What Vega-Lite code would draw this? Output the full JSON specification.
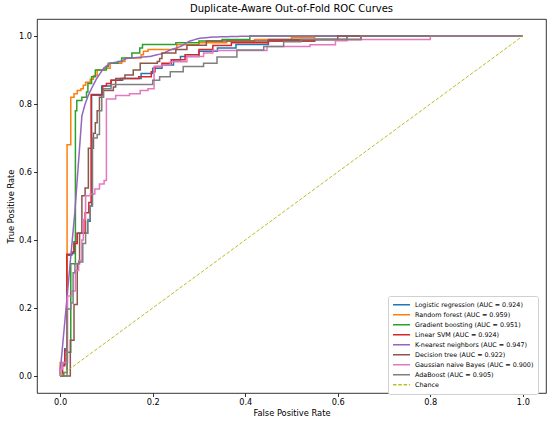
{
  "$schema": "https://vega.github.io/schema/vega-lite/v6.json",
  "width": 509,
  "height": 374,
  "autosize": "none",
  "padding": {"left": 37, "top": 19, "right": 4, "bottom": 29},
  "title": {"text": "Duplicate-Aware Out-of-Fold ROC Curves", "offset": 5},
  "data": {
    "values": [
      {"model": "Logistic regression (AUC = 0.924)", "x": 0, "y": 0},
      {"model": "Logistic regression (AUC = 0.924)", "x": 0.005, "y": 0.035},
      {"model": "Logistic regression (AUC = 0.924)", "x": 0.01, "y": 0.08},
      {"model": "Logistic regression (AUC = 0.924)", "x": 0.0145, "y": 0.355},
      {"model": "Logistic regression (AUC = 0.924)", "x": 0.025, "y": 0.36},
      {"model": "Logistic regression (AUC = 0.924)", "x": 0.03, "y": 0.395},
      {"model": "Logistic regression (AUC = 0.924)", "x": 0.037, "y": 0.42},
      {"model": "Logistic regression (AUC = 0.924)", "x": 0.059, "y": 0.455},
      {"model": "Logistic regression (AUC = 0.924)", "x": 0.065, "y": 0.5},
      {"model": "Logistic regression (AUC = 0.924)", "x": 0.068, "y": 0.826},
      {"model": "Logistic regression (AUC = 0.924)", "x": 0.09, "y": 0.853},
      {"model": "Logistic regression (AUC = 0.924)", "x": 0.11, "y": 0.87},
      {"model": "Logistic regression (AUC = 0.924)", "x": 0.135, "y": 0.875},
      {"model": "Logistic regression (AUC = 0.924)", "x": 0.175, "y": 0.89},
      {"model": "Logistic regression (AUC = 0.924)", "x": 0.2, "y": 0.905},
      {"model": "Logistic regression (AUC = 0.924)", "x": 0.22, "y": 0.915},
      {"model": "Logistic regression (AUC = 0.924)", "x": 0.245, "y": 0.93},
      {"model": "Logistic regression (AUC = 0.924)", "x": 0.26, "y": 0.94},
      {"model": "Logistic regression (AUC = 0.924)", "x": 0.3, "y": 0.955},
      {"model": "Logistic regression (AUC = 0.924)", "x": 0.34, "y": 0.965},
      {"model": "Logistic regression (AUC = 0.924)", "x": 0.38, "y": 0.975},
      {"model": "Logistic regression (AUC = 0.924)", "x": 0.45, "y": 0.985},
      {"model": "Logistic regression (AUC = 0.924)", "x": 0.55, "y": 0.99},
      {"model": "Logistic regression (AUC = 0.924)", "x": 0.62, "y": 1.0},
      {"model": "Logistic regression (AUC = 0.924)", "x": 1, "y": 1},

      {"model": "Random forest (AUC = 0.959)", "x": 0, "y": 0},
      {"model": "Random forest (AUC = 0.959)", "x": 0, "y": 0.04},
      {"model": "Random forest (AUC = 0.959)", "x": 0.015, "y": 0.68},
      {"model": "Random forest (AUC = 0.959)", "x": 0.023, "y": 0.82},
      {"model": "Random forest (AUC = 0.959)", "x": 0.03, "y": 0.83},
      {"model": "Random forest (AUC = 0.959)", "x": 0.037, "y": 0.84},
      {"model": "Random forest (AUC = 0.959)", "x": 0.045, "y": 0.845},
      {"model": "Random forest (AUC = 0.959)", "x": 0.05, "y": 0.855},
      {"model": "Random forest (AUC = 0.959)", "x": 0.055, "y": 0.864},
      {"model": "Random forest (AUC = 0.959)", "x": 0.065, "y": 0.873},
      {"model": "Random forest (AUC = 0.959)", "x": 0.072, "y": 0.883},
      {"model": "Random forest (AUC = 0.959)", "x": 0.08, "y": 0.9},
      {"model": "Random forest (AUC = 0.959)", "x": 0.095, "y": 0.905},
      {"model": "Random forest (AUC = 0.959)", "x": 0.108, "y": 0.92},
      {"model": "Random forest (AUC = 0.959)", "x": 0.133, "y": 0.925},
      {"model": "Random forest (AUC = 0.959)", "x": 0.14, "y": 0.935},
      {"model": "Random forest (AUC = 0.959)", "x": 0.175, "y": 0.945},
      {"model": "Random forest (AUC = 0.959)", "x": 0.18, "y": 0.955},
      {"model": "Random forest (AUC = 0.959)", "x": 0.19, "y": 0.96},
      {"model": "Random forest (AUC = 0.959)", "x": 0.252, "y": 0.974},
      {"model": "Random forest (AUC = 0.959)", "x": 0.3, "y": 0.98},
      {"model": "Random forest (AUC = 0.959)", "x": 0.36, "y": 0.985},
      {"model": "Random forest (AUC = 0.959)", "x": 0.42, "y": 0.99},
      {"model": "Random forest (AUC = 0.959)", "x": 0.5, "y": 0.995},
      {"model": "Random forest (AUC = 0.959)", "x": 0.55, "y": 1.0},
      {"model": "Random forest (AUC = 0.959)", "x": 1, "y": 1},

      {"model": "Gradient boosting (AUC = 0.951)", "x": 0, "y": 0},
      {"model": "Gradient boosting (AUC = 0.951)", "x": 0.008, "y": 0.01},
      {"model": "Gradient boosting (AUC = 0.951)", "x": 0.015, "y": 0.07},
      {"model": "Gradient boosting (AUC = 0.951)", "x": 0.023, "y": 0.33},
      {"model": "Gradient boosting (AUC = 0.951)", "x": 0.033, "y": 0.78},
      {"model": "Gradient boosting (AUC = 0.951)", "x": 0.036, "y": 0.81},
      {"model": "Gradient boosting (AUC = 0.951)", "x": 0.047, "y": 0.82},
      {"model": "Gradient boosting (AUC = 0.951)", "x": 0.057, "y": 0.835},
      {"model": "Gradient boosting (AUC = 0.951)", "x": 0.06, "y": 0.86},
      {"model": "Gradient boosting (AUC = 0.951)", "x": 0.068, "y": 0.88},
      {"model": "Gradient boosting (AUC = 0.951)", "x": 0.076, "y": 0.9},
      {"model": "Gradient boosting (AUC = 0.951)", "x": 0.1, "y": 0.91},
      {"model": "Gradient boosting (AUC = 0.951)", "x": 0.104, "y": 0.92},
      {"model": "Gradient boosting (AUC = 0.951)", "x": 0.125, "y": 0.925},
      {"model": "Gradient boosting (AUC = 0.951)", "x": 0.133, "y": 0.935},
      {"model": "Gradient boosting (AUC = 0.951)", "x": 0.155, "y": 0.95},
      {"model": "Gradient boosting (AUC = 0.951)", "x": 0.172, "y": 0.965},
      {"model": "Gradient boosting (AUC = 0.951)", "x": 0.178, "y": 0.975},
      {"model": "Gradient boosting (AUC = 0.951)", "x": 0.25, "y": 0.98},
      {"model": "Gradient boosting (AUC = 0.951)", "x": 0.3, "y": 0.985},
      {"model": "Gradient boosting (AUC = 0.951)", "x": 0.35, "y": 0.99},
      {"model": "Gradient boosting (AUC = 0.951)", "x": 0.41, "y": 1.0},
      {"model": "Gradient boosting (AUC = 0.951)", "x": 1, "y": 1},

      {"model": "Linear SVM (AUC = 0.924)", "x": 0, "y": 0},
      {"model": "Linear SVM (AUC = 0.924)", "x": 0.005, "y": 0.03},
      {"model": "Linear SVM (AUC = 0.924)", "x": 0.01, "y": 0.075},
      {"model": "Linear SVM (AUC = 0.924)", "x": 0.0145, "y": 0.358},
      {"model": "Linear SVM (AUC = 0.924)", "x": 0.025, "y": 0.365},
      {"model": "Linear SVM (AUC = 0.924)", "x": 0.03, "y": 0.39},
      {"model": "Linear SVM (AUC = 0.924)", "x": 0.037, "y": 0.42},
      {"model": "Linear SVM (AUC = 0.924)", "x": 0.054, "y": 0.48},
      {"model": "Linear SVM (AUC = 0.924)", "x": 0.062, "y": 0.51},
      {"model": "Linear SVM (AUC = 0.924)", "x": 0.067, "y": 0.828},
      {"model": "Linear SVM (AUC = 0.924)", "x": 0.092, "y": 0.853},
      {"model": "Linear SVM (AUC = 0.924)", "x": 0.1, "y": 0.86},
      {"model": "Linear SVM (AUC = 0.924)", "x": 0.11, "y": 0.87},
      {"model": "Linear SVM (AUC = 0.924)", "x": 0.13, "y": 0.875},
      {"model": "Linear SVM (AUC = 0.924)", "x": 0.17, "y": 0.88},
      {"model": "Linear SVM (AUC = 0.924)", "x": 0.197, "y": 0.895},
      {"model": "Linear SVM (AUC = 0.924)", "x": 0.205, "y": 0.91},
      {"model": "Linear SVM (AUC = 0.924)", "x": 0.22, "y": 0.92},
      {"model": "Linear SVM (AUC = 0.924)", "x": 0.24, "y": 0.93},
      {"model": "Linear SVM (AUC = 0.924)", "x": 0.27, "y": 0.945},
      {"model": "Linear SVM (AUC = 0.924)", "x": 0.3, "y": 0.96},
      {"model": "Linear SVM (AUC = 0.924)", "x": 0.33, "y": 0.972},
      {"model": "Linear SVM (AUC = 0.924)", "x": 0.37, "y": 0.98},
      {"model": "Linear SVM (AUC = 0.924)", "x": 0.45, "y": 0.985},
      {"model": "Linear SVM (AUC = 0.924)", "x": 0.55, "y": 0.99},
      {"model": "Linear SVM (AUC = 0.924)", "x": 0.65, "y": 1.0},
      {"model": "Linear SVM (AUC = 0.924)", "x": 1, "y": 1},

      {"model": "K-nearest neighbors (AUC = 0.947)", "x": 0, "y": 0},
      {"model": "K-nearest neighbors (AUC = 0.947)", "x": 0, "y": 0.02},
      {"model": "K-nearest neighbors (AUC = 0.947)", "x": 0.002, "y": 0.04},
      {"model": "K-nearest neighbors (AUC = 0.947)", "x": 0.032, "y": 0.485},
      {"model": "K-nearest neighbors (AUC = 0.947)", "x": 0.047, "y": 0.765},
      {"model": "K-nearest neighbors (AUC = 0.947)", "x": 0.054, "y": 0.8},
      {"model": "K-nearest neighbors (AUC = 0.947)", "x": 0.061, "y": 0.826},
      {"model": "K-nearest neighbors (AUC = 0.947)", "x": 0.068, "y": 0.846},
      {"model": "K-nearest neighbors (AUC = 0.947)", "x": 0.079, "y": 0.875},
      {"model": "K-nearest neighbors (AUC = 0.947)", "x": 0.094, "y": 0.905},
      {"model": "K-nearest neighbors (AUC = 0.947)", "x": 0.108, "y": 0.92},
      {"model": "K-nearest neighbors (AUC = 0.947)", "x": 0.13, "y": 0.925},
      {"model": "K-nearest neighbors (AUC = 0.947)", "x": 0.144, "y": 0.934},
      {"model": "K-nearest neighbors (AUC = 0.947)", "x": 0.195, "y": 0.94},
      {"model": "K-nearest neighbors (AUC = 0.947)", "x": 0.223, "y": 0.949},
      {"model": "K-nearest neighbors (AUC = 0.947)", "x": 0.238, "y": 0.959},
      {"model": "K-nearest neighbors (AUC = 0.947)", "x": 0.26, "y": 0.969},
      {"model": "K-nearest neighbors (AUC = 0.947)", "x": 0.28, "y": 0.985},
      {"model": "K-nearest neighbors (AUC = 0.947)", "x": 0.3, "y": 0.993},
      {"model": "K-nearest neighbors (AUC = 0.947)", "x": 0.33, "y": 0.997},
      {"model": "K-nearest neighbors (AUC = 0.947)", "x": 0.42, "y": 1.0},
      {"model": "K-nearest neighbors (AUC = 0.947)", "x": 1, "y": 1},

      {"model": "Decision tree (AUC = 0.922)", "x": 0, "y": 0},
      {"model": "Decision tree (AUC = 0.922)", "x": 0.022, "y": 0.032},
      {"model": "Decision tree (AUC = 0.922)", "x": 0.022, "y": 0.105},
      {"model": "Decision tree (AUC = 0.922)", "x": 0.03, "y": 0.21},
      {"model": "Decision tree (AUC = 0.922)", "x": 0.037, "y": 0.33},
      {"model": "Decision tree (AUC = 0.922)", "x": 0.042, "y": 0.42},
      {"model": "Decision tree (AUC = 0.922)", "x": 0.047, "y": 0.53},
      {"model": "Decision tree (AUC = 0.922)", "x": 0.054, "y": 0.553},
      {"model": "Decision tree (AUC = 0.922)", "x": 0.061, "y": 0.67},
      {"model": "Decision tree (AUC = 0.922)", "x": 0.072, "y": 0.714},
      {"model": "Decision tree (AUC = 0.922)", "x": 0.076, "y": 0.745},
      {"model": "Decision tree (AUC = 0.922)", "x": 0.08, "y": 0.78},
      {"model": "Decision tree (AUC = 0.922)", "x": 0.085, "y": 0.82},
      {"model": "Decision tree (AUC = 0.922)", "x": 0.09, "y": 0.84},
      {"model": "Decision tree (AUC = 0.922)", "x": 0.115, "y": 0.85},
      {"model": "Decision tree (AUC = 0.922)", "x": 0.12, "y": 0.875},
      {"model": "Decision tree (AUC = 0.922)", "x": 0.14, "y": 0.885},
      {"model": "Decision tree (AUC = 0.922)", "x": 0.158, "y": 0.9},
      {"model": "Decision tree (AUC = 0.922)", "x": 0.173, "y": 0.92},
      {"model": "Decision tree (AUC = 0.922)", "x": 0.21, "y": 0.925},
      {"model": "Decision tree (AUC = 0.922)", "x": 0.215, "y": 0.934},
      {"model": "Decision tree (AUC = 0.922)", "x": 0.22, "y": 0.95},
      {"model": "Decision tree (AUC = 0.922)", "x": 0.25, "y": 0.96},
      {"model": "Decision tree (AUC = 0.922)", "x": 0.274, "y": 0.973},
      {"model": "Decision tree (AUC = 0.922)", "x": 0.316, "y": 0.985},
      {"model": "Decision tree (AUC = 0.922)", "x": 0.45, "y": 0.99},
      {"model": "Decision tree (AUC = 0.922)", "x": 0.6, "y": 1.0},
      {"model": "Decision tree (AUC = 0.922)", "x": 1, "y": 1},

      {"model": "Gaussian naive Bayes (AUC = 0.900)", "x": 0, "y": 0},
      {"model": "Gaussian naive Bayes (AUC = 0.900)", "x": 0, "y": 0.02},
      {"model": "Gaussian naive Bayes (AUC = 0.900)", "x": 0.005, "y": 0.04},
      {"model": "Gaussian naive Bayes (AUC = 0.900)", "x": 0.016, "y": 0.235},
      {"model": "Gaussian naive Bayes (AUC = 0.900)", "x": 0.025, "y": 0.25},
      {"model": "Gaussian naive Bayes (AUC = 0.900)", "x": 0.033, "y": 0.31},
      {"model": "Gaussian naive Bayes (AUC = 0.900)", "x": 0.04, "y": 0.34},
      {"model": "Gaussian naive Bayes (AUC = 0.900)", "x": 0.047, "y": 0.4},
      {"model": "Gaussian naive Bayes (AUC = 0.900)", "x": 0.05, "y": 0.46},
      {"model": "Gaussian naive Bayes (AUC = 0.900)", "x": 0.055, "y": 0.53},
      {"model": "Gaussian naive Bayes (AUC = 0.900)", "x": 0.065, "y": 0.535},
      {"model": "Gaussian naive Bayes (AUC = 0.900)", "x": 0.075, "y": 0.55},
      {"model": "Gaussian naive Bayes (AUC = 0.900)", "x": 0.085, "y": 0.565},
      {"model": "Gaussian naive Bayes (AUC = 0.900)", "x": 0.095, "y": 0.575},
      {"model": "Gaussian naive Bayes (AUC = 0.900)", "x": 0.1, "y": 0.815},
      {"model": "Gaussian naive Bayes (AUC = 0.900)", "x": 0.12, "y": 0.825},
      {"model": "Gaussian naive Bayes (AUC = 0.900)", "x": 0.15, "y": 0.83},
      {"model": "Gaussian naive Bayes (AUC = 0.900)", "x": 0.173, "y": 0.84},
      {"model": "Gaussian naive Bayes (AUC = 0.900)", "x": 0.19, "y": 0.845},
      {"model": "Gaussian naive Bayes (AUC = 0.900)", "x": 0.203, "y": 0.91},
      {"model": "Gaussian naive Bayes (AUC = 0.900)", "x": 0.22, "y": 0.915},
      {"model": "Gaussian naive Bayes (AUC = 0.900)", "x": 0.238, "y": 0.924},
      {"model": "Gaussian naive Bayes (AUC = 0.900)", "x": 0.274, "y": 0.94},
      {"model": "Gaussian naive Bayes (AUC = 0.900)", "x": 0.31, "y": 0.95},
      {"model": "Gaussian naive Bayes (AUC = 0.900)", "x": 0.33, "y": 0.957},
      {"model": "Gaussian naive Bayes (AUC = 0.900)", "x": 0.447, "y": 0.969},
      {"model": "Gaussian naive Bayes (AUC = 0.900)", "x": 0.54, "y": 0.974},
      {"model": "Gaussian naive Bayes (AUC = 0.900)", "x": 0.595, "y": 0.986},
      {"model": "Gaussian naive Bayes (AUC = 0.900)", "x": 0.62, "y": 0.99},
      {"model": "Gaussian naive Bayes (AUC = 0.900)", "x": 0.8, "y": 1.0},
      {"model": "Gaussian naive Bayes (AUC = 0.900)", "x": 1, "y": 1},

      {"model": "AdaBoost (AUC = 0.905)", "x": 0, "y": 0},
      {"model": "AdaBoost (AUC = 0.905)", "x": 0.015, "y": 0.197},
      {"model": "AdaBoost (AUC = 0.905)", "x": 0.023, "y": 0.215},
      {"model": "AdaBoost (AUC = 0.905)", "x": 0.028, "y": 0.304},
      {"model": "AdaBoost (AUC = 0.905)", "x": 0.032, "y": 0.33},
      {"model": "AdaBoost (AUC = 0.905)", "x": 0.04, "y": 0.335},
      {"model": "AdaBoost (AUC = 0.905)", "x": 0.049, "y": 0.39},
      {"model": "AdaBoost (AUC = 0.905)", "x": 0.055, "y": 0.42},
      {"model": "AdaBoost (AUC = 0.905)", "x": 0.06, "y": 0.46},
      {"model": "AdaBoost (AUC = 0.905)", "x": 0.065, "y": 0.5},
      {"model": "AdaBoost (AUC = 0.905)", "x": 0.07, "y": 0.7},
      {"model": "AdaBoost (AUC = 0.905)", "x": 0.08, "y": 0.71},
      {"model": "AdaBoost (AUC = 0.905)", "x": 0.085, "y": 0.78},
      {"model": "AdaBoost (AUC = 0.905)", "x": 0.09, "y": 0.82},
      {"model": "AdaBoost (AUC = 0.905)", "x": 0.094, "y": 0.845},
      {"model": "AdaBoost (AUC = 0.905)", "x": 0.11, "y": 0.857},
      {"model": "AdaBoost (AUC = 0.905)", "x": 0.2, "y": 0.87},
      {"model": "AdaBoost (AUC = 0.905)", "x": 0.215, "y": 0.88},
      {"model": "AdaBoost (AUC = 0.905)", "x": 0.238, "y": 0.895},
      {"model": "AdaBoost (AUC = 0.905)", "x": 0.266, "y": 0.91},
      {"model": "AdaBoost (AUC = 0.905)", "x": 0.31, "y": 0.92},
      {"model": "AdaBoost (AUC = 0.905)", "x": 0.339, "y": 0.938},
      {"model": "AdaBoost (AUC = 0.905)", "x": 0.382, "y": 0.959},
      {"model": "AdaBoost (AUC = 0.905)", "x": 0.44, "y": 0.969},
      {"model": "AdaBoost (AUC = 0.905)", "x": 0.483, "y": 0.983},
      {"model": "AdaBoost (AUC = 0.905)", "x": 0.52, "y": 0.99},
      {"model": "AdaBoost (AUC = 0.905)", "x": 0.65, "y": 1.0},
      {"model": "AdaBoost (AUC = 0.905)", "x": 1, "y": 1},

      {"model": "Chance", "x": 0, "y": 0},
      {"model": "Chance", "x": 1, "y": 1}
    ]
  },
  "encoding": {
    "x": {
      "field": "x",
      "type": "quantitative",
      "scale": {"domain": [-0.05, 1.05], "nice": false, "zero": false},
      "axis": {"title": "False Positive Rate", "values": [0, 0.2, 0.4, 0.6, 0.8, 1], "format": ".1f", "labelFlush": false}
    },
    "y": {
      "field": "y",
      "type": "quantitative",
      "scale": {"domain": [-0.05, 1.05], "nice": false, "zero": false},
      "axis": {"title": "True Positive Rate", "values": [0, 0.2, 0.4, 0.6, 0.8, 1], "format": ".1f", "labelFlush": false}
    },
    "color": {
      "field": "model",
      "type": "nominal",
      "scale": {
        "domain": [
          "Logistic regression (AUC = 0.924)",
          "Random forest (AUC = 0.959)",
          "Gradient boosting (AUC = 0.951)",
          "Linear SVM (AUC = 0.924)",
          "K-nearest neighbors (AUC = 0.947)",
          "Decision tree (AUC = 0.922)",
          "Gaussian naive Bayes (AUC = 0.900)",
          "AdaBoost (AUC = 0.905)",
          "Chance"
        ],
        "range": ["#1f77b4", "#ff7f0e", "#2ca02c", "#d62728", "#9467bd", "#8c564b", "#e377c2", "#7f7f7f", "#bcbd22"]
      },
      "legend": {"title": null, "orient": "none", "legendX": 351, "legendY": 277}
    },
    "strokeDash": {
      "field": "model",
      "type": "nominal",
      "scale": {
        "domain": [
          "Logistic regression (AUC = 0.924)",
          "Random forest (AUC = 0.959)",
          "Gradient boosting (AUC = 0.951)",
          "Linear SVM (AUC = 0.924)",
          "K-nearest neighbors (AUC = 0.947)",
          "Decision tree (AUC = 0.922)",
          "Gaussian naive Bayes (AUC = 0.900)",
          "AdaBoost (AUC = 0.905)",
          "Chance"
        ],
        "range": [[1, 0], [1, 0], [1, 0], [1, 0], [1, 0], [1, 0], [1, 0], [1, 0], [3.5, 1.8]]
      },
      "legend": {"title": null, "orient": "none", "legendX": 351, "legendY": 277}
    },
    "order": [
      {"field": "x", "type": "quantitative"},
      {"field": "y", "type": "quantitative"}
    ]
  },
  "layer": [
    {
      "transform": [{"filter": {"field": "model", "oneOf": ["Logistic regression (AUC = 0.924)", "Random forest (AUC = 0.959)", "Gradient boosting (AUC = 0.951)", "Linear SVM (AUC = 0.924)"]}}],
      "mark": {"type": "line", "interpolate": "step-after", "strokeWidth": 1.5}
    },
    {
      "transform": [{"filter": {"field": "model", "equal": "K-nearest neighbors (AUC = 0.947)"}}],
      "mark": {"type": "line", "strokeWidth": 1.5}
    },
    {
      "transform": [{"filter": {"field": "model", "oneOf": ["Decision tree (AUC = 0.922)", "Gaussian naive Bayes (AUC = 0.900)", "AdaBoost (AUC = 0.905)"]}}],
      "mark": {"type": "line", "interpolate": "step-after", "strokeWidth": 1.5}
    },
    {
      "transform": [{"filter": {"field": "model", "equal": "Chance"}}],
      "mark": {"type": "line", "strokeWidth": 1}
    }
  ],
  "config": {
    "font": "DejaVu Sans",
    "view": {"stroke": "black", "strokeWidth": 0.8},
    "title": {"fontSize": 10, "fontWeight": "normal", "color": "black"},
    "axis": {
      "domain": false,
      "grid": false,
      "tickColor": "black",
      "tickSize": 3.5,
      "tickWidth": 0.8,
      "labelColor": "black",
      "labelFontSize": 8.2,
      "labelPadding": 2,
      "titleColor": "black",
      "titleFontSize": 8.3,
      "titleFontWeight": "normal",
      "titlePadding": 3
    },
    "legend": {
      "fillColor": "white",
      "strokeColor": "#d0d0d0",
      "cornerRadius": 2,
      "padding": 4,
      "labelFontSize": 6.4,
      "labelColor": "black",
      "labelOffset": 4,
      "symbolType": "stroke",
      "symbolSize": 289,
      "symbolStrokeWidth": 1.5,
      "clipHeight": 9.7,
      "rowPadding": 0
    }
  }
}
